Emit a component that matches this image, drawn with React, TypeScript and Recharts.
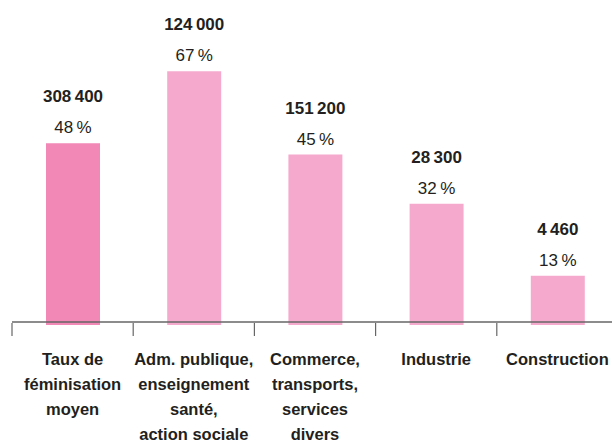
import React from "react";
import { BarChart, Bar, XAxis, YAxis, Cell, LabelList, ReferenceLine } from "recharts";

const categories: string[][] = [
  ["Taux de", "féminisation", "moyen"],
  ["Adm. publique,", "enseignement", "santé,", "action sociale"],
  ["Commerce,", "transports,", "services", "divers"],
  ["Industrie"],
  ["Construction"],
];
const shares = [48, 67, 45, 32, 13];
const counts = ["308\u2009400", "124\u2009000", "151\u2009200", "28\u2009300", "4\u2009460"];
const colors = ["#f288b6", "#f5aacd", "#f5aacd", "#f5aacd", "#f5aacd"];

const data = shares.map((v, i) => ({ name: String(i), value: v, count: counts[i], lines: categories[i] }));

const FONT = '"Liberation Sans", Arial, sans-serif';
const BAND = 606 / 5;

const Tick = (props: any) => {
  const { x, y, payload } = props;
  const lines = categories[payload.index] || [];
  return (
    <g>
      <line x1={x - BAND / 2} x2={x - BAND / 2} y1={y - 10} y2={y + 3} stroke="#666" strokeWidth={1.2} />
      {lines.map((l, i) => (
        <text
          key={i}
          x={x}
          y={y + 32 + i * 25}
          textAnchor="middle"
          fontFamily={FONT}
          fontWeight="bold"
          fontSize={16.5}
          fill="#231f20"
        >
          {l}
        </text>
      ))}
    </g>
  );
};

const TopLabel = (props: any) => {
  const { x, y, width, index } = props;
  const cx = x + width / 2;
  return (
    <g>
      <text x={cx} y={y - 41} textAnchor="middle" fontFamily={FONT} fontWeight="bold" fontSize={17} fill="#231f20">
        {counts[index]}
      </text>
      <text x={cx} y={y - 10} textAnchor="middle" fontFamily={FONT} fontSize={17} fill="#231f20">
        {shares[index]}
        {"\u2009%"}
      </text>
    </g>
  );
};

export default function App() {
  return (
    <div style={{ position: "fixed", left: 0, top: 0, width: 612, height: 445, overflow: "hidden", background: "#fff" }}>
      <BarChart width={630} height={445} data={data} margin={{ top: 22, right: 12, left: 12, bottom: 0 }} barCategoryGap={0}>
        <XAxis dataKey="name" axisLine={false} tickLine={false} height={120} interval={0} tick={<Tick />} />
        <YAxis hide domain={[0, 80]} />
        <Bar dataKey="value" barSize={54} isAnimationActive={false}>
          {data.map((d, i) => (
            <Cell key={i} fill={colors[i]} />
          ))}
          <LabelList dataKey="value" content={<TopLabel />} />
        </Bar>
        <ReferenceLine y={0.8} stroke="#666" strokeWidth={1.5} ifOverflow="visible" />
      </BarChart>
    </div>
  );
}
